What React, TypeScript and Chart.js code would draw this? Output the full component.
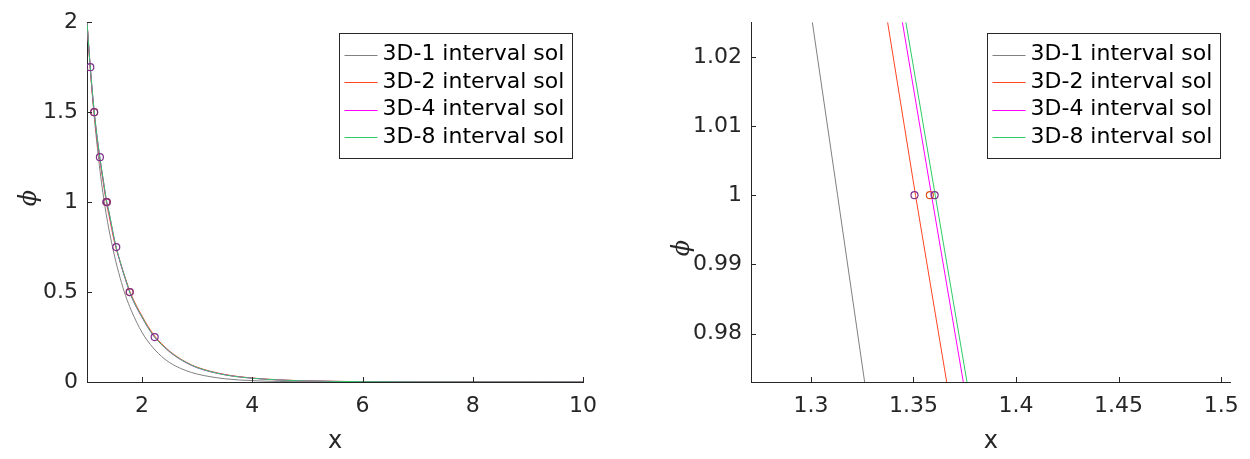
import React, { useEffect, useRef } from 'react';
import { Chart, registerables } from 'chart.js';

Chart.register(...registerables);

// ---------- data ----------
const X_GRID = [1, 1.05, 1.1, 1.15, 1.2, 1.25, 1.3, 1.35, 1.4, 1.5, 1.6, 1.7, 1.8, 2.0, 2.2, 2.4, 2.6, 2.8, 3.0, 3.5, 4, 4.5, 5, 6, 7, 8, 9, 10];
const PHI_3D1 = [2, 1.78, 1.585, 1.415, 1.27, 1.14, 1.027, 0.93, 0.845, 0.7, 0.58, 0.48, 0.4, 0.275, 0.19, 0.13, 0.09, 0.063, 0.044, 0.018, 0.0075, 0.003, 0.0013, 0.0003, 0.0001, 0, 0, 0];
const PHI_3D2 = [2, 1.78, 1.59, 1.435, 1.308, 1.197, 1.098, 1.002, 0.925, 0.775, 0.67, 0.574, 0.487, 0.366, 0.267, 0.199, 0.148, 0.11, 0.082, 0.042, 0.022, 0.012, 0.0065, 0.002, 0.0006, 0.0002, 0.0001, 0];
const PHI_3D4 = [2, 1.788, 1.602, 1.447, 1.321, 1.211, 1.111, 1.012, 0.941, 0.786, 0.667, 0.567, 0.478, 0.358, 0.259, 0.194, 0.144, 0.107, 0.079, 0.04, 0.021, 0.011, 0.006, 0.0018, 0.0005, 0.0002, 0.0001, 0];
const PHI_3D8 = [2, 1.79, 1.605, 1.45, 1.325, 1.215, 1.115, 1.016, 0.945, 0.79, 0.67, 0.57, 0.48, 0.36, 0.26, 0.195, 0.145, 0.108, 0.08, 0.04, 0.021, 0.011, 0.006, 0.0018, 0.0005, 0.0002, 0.0001, 0];

// interval break-points (circle markers)
const MK2_X = [1.3505];
const MK2_Y = [1];
const MK4_X = [1.13, 1.358, 1.775];
const MK4_Y = [1.5, 1, 0.5];
const MK8_X = [1.06, 1.13, 1.234, 1.3603, 1.531, 1.775, 2.228];
const MK8_Y = [1.75, 1.5, 1.25, 1, 0.75, 0.5, 0.25];

// zoomed view (right panel)
const ZOOM_PHI = [1.025, 1.0, 0.973];
const ZOOM_X_3D1 = [1.3007, 1.313, 1.3262];
const ZOOM_X_3D2 = [1.3374, 1.3510, 1.3662];
const ZOOM_X_3D4 = [1.3446, 1.3588, 1.3743];
const ZOOM_X_3D8 = [1.3463, 1.3606, 1.3761];

const SERIES_LABELS = ['3D-1 interval sol', '3D-2 interval sol', '3D-4 interval sol', '3D-8 interval sol'];
const SERIES_COLORS = ['#808080', '#ff4422', '#ff00ff', '#2ecc66'];
const MARKER_PURPLE = '#7e2f8e';
const MARKER_ORANGE = '#d95319';

const LEFT_X_TICKS = [2, 4, 6, 8, 10];
const LEFT_Y_TICKS = [0, 0.5, 1, 1.5, 2];
const RIGHT_X_TICKS = [1.3, 1.35, 1.4, 1.45, 1.5];
const RIGHT_Y_TICKS = [0.98, 0.99, 1, 1.01, 1.02];

const FONT = "'DejaVu Sans', sans-serif";
const AXIS_COLOR = '#262626';

// ---------- helpers ----------
function pts(xs: number[], ys: number[]) {
  return xs.map((x, i) => ({ x, y: ys[i] }));
}
function fmt(v: number) {
  return String(Number(Number(v).toFixed(6)));
}

const innerTicks = {
  id: 'innerTicks',
  afterDraw(chart: any) {
    const ctx = chart.ctx;
    const { left, bottom } = chart.chartArea;
    const xs = chart.scales.x;
    const ys = chart.scales.y;
    ctx.save();
    ctx.strokeStyle = AXIS_COLOR;
    ctx.lineWidth = 1;
    ctx.beginPath();
    xs.ticks.forEach((t: any) => {
      const p = Math.round(xs.getPixelForValue(t.value)) + 0.5;
      ctx.moveTo(p, bottom);
      ctx.lineTo(p, bottom - 5);
    });
    ys.ticks.forEach((t: any) => {
      const p = Math.round(ys.getPixelForValue(t.value)) + 0.5;
      ctx.moveTo(left, p);
      ctx.lineTo(left + 5, p);
    });
    ctx.stroke();
    ctx.restore();
  },
};

const legendBox = {
  id: 'legendBox',
  afterDraw(chart: any, _args: any, opts: any) {
    const ctx = chart.ctx;
    const ca = chart.chartArea;
    const w = opts.width;
    const h = opts.height;
    const bx = Math.round(ca.right - opts.gapRight - w) + 0.5;
    const by = Math.round(ca.top + opts.gapTop) + 0.5;
    ctx.save();
    ctx.fillStyle = '#ffffff';
    ctx.fillRect(bx, by, w, h);
    ctx.strokeStyle = AXIS_COLOR;
    ctx.lineWidth = 1;
    ctx.strokeRect(bx, by, w, h);
    ctx.font = `22px ${FONT}`;
    ctx.textBaseline = 'middle';
    ctx.textAlign = 'left';
    for (let i = 0; i < SERIES_LABELS.length; i++) {
      const cy = by + 21 + i * 27.6;
      const ly = Math.round(cy) + 0.5;
      ctx.beginPath();
      ctx.strokeStyle = SERIES_COLORS[i];
      ctx.lineWidth = 1.2;
      ctx.moveTo(bx + 5, ly);
      ctx.lineTo(bx + 38, ly);
      ctx.stroke();
      ctx.fillStyle = '#000000';
      ctx.fillText(SERIES_LABELS[i], bx + 43, cy);
    }
    ctx.restore();
  },
};

const phiTitle = {
  id: 'phiTitle',
  afterDraw(chart: any, _args: any, opts: any) {
    const ctx = chart.ctx;
    ctx.save();
    ctx.translate(opts.x, opts.y);
    ctx.rotate(-Math.PI / 2);
    ctx.font = "italic 24px 'DejaVu Serif', serif";
    ctx.fillStyle = AXIS_COLOR;
    ctx.textAlign = 'center';
    ctx.textBaseline = 'middle';
    ctx.fillText('\u03D5', 0, 0);
    ctx.restore();
  },
};

function curve(label: string, color: string, data: any[], order: number, smooth: boolean) {
  return {
    label,
    data,
    borderColor: color,
    backgroundColor: color,
    borderWidth: 1,
    pointRadius: 0,
    showLine: true,
    fill: false,
    order,
    cubicInterpolationMode: smooth ? 'monotone' : 'default',
    tension: 0,
  };
}
function markers(color: string, data: any[]) {
  return {
    label: 'break points',
    data,
    showLine: false,
    pointRadius: 3.5,
    pointBorderWidth: 1.2,
    pointBorderColor: color,
    pointBackgroundColor: 'rgba(0,0,0,0)',
    borderColor: color,
    backgroundColor: 'rgba(0,0,0,0)',
    order: 0,
  };
}

function scaleCfg(min: number, max: number, ticks: number[], isX: boolean, size: number, title?: string) {
  const cfg: any = {
    type: 'linear',
    min,
    max,
    afterBuildTicks: (s: any) => {
      s.ticks = ticks.map((v) => ({ value: v }));
    },
    afterFit: (s: any) => {
      if (isX) s.height = size;
      else s.width = size;
    },
    grid: { display: false, drawTicks: false },
    border: { display: true, color: AXIS_COLOR, width: 1 },
    ticks: {
      font: { family: FONT, size: 22 },
      color: AXIS_COLOR,
      padding: isX ? 11 : 9,
      maxRotation: 0,
      minRotation: 0,
      autoSkip: false,
      callback: (v: any) => fmt(v),
    },
  };
  if (title) {
    cfg.title = {
      display: true,
      text: title,
      font: { family: FONT, size: 24 },
      color: AXIS_COLOR,
      padding: { top: 0, bottom: 3 },
    };
  }
  return cfg;
}

function PanelChart({ config }: { config: any }) {
  const ref = useRef<HTMLCanvasElement | null>(null);
  useEffect(() => {
    if (!ref.current) return;
    const chart = new Chart(ref.current, config);
    return () => chart.destroy();
  }, [config]);
  return <canvas ref={ref} width={625} height={459} style={{ display: 'block', width: 625, height: 459 }} />;
}

const leftConfig: any = {
  type: 'line',
  data: {
    datasets: [
      markers(MARKER_PURPLE, pts(MK8_X, MK8_Y)),
      markers(MARKER_ORANGE, pts(MK4_X, MK4_Y)),
      markers(MARKER_PURPLE, pts(MK2_X, MK2_Y)),
      curve(SERIES_LABELS[3], SERIES_COLORS[3], pts(X_GRID, PHI_3D8), 1, true),
      curve(SERIES_LABELS[2], SERIES_COLORS[2], pts(X_GRID, PHI_3D4), 2, true),
      curve(SERIES_LABELS[1], SERIES_COLORS[1], pts(X_GRID, PHI_3D2), 3, true),
      curve(SERIES_LABELS[0], SERIES_COLORS[0], pts(X_GRID, PHI_3D1), 4, true),
    ],
  },
  options: {
    responsive: false,
    animation: false,
    devicePixelRatio: 1,
    layout: { padding: { left: 0, top: 14, right: 42, bottom: 0 } },
    scales: {
      x: scaleCfg(1, 10, LEFT_X_TICKS, true, 77, 'x'),
      y: scaleCfg(0, 2, LEFT_Y_TICKS, false, 87),
    },
    plugins: {
      legend: { display: false },
      tooltip: { enabled: false },
      legendBox: { width: 233, height: 125, gapRight: 11, gapTop: 11 },
      phiTitle: { x: 30, y: 198 },
    },
  },
  plugins: [innerTicks, legendBox, phiTitle],
};

const rightConfig: any = {
  type: 'line',
  data: {
    datasets: [
      markers(MARKER_PURPLE, pts(MK8_X, MK8_Y)),
      markers(MARKER_ORANGE, pts(MK4_X, MK4_Y)),
      markers(MARKER_PURPLE, pts(MK2_X, MK2_Y)),
      curve(SERIES_LABELS[3], SERIES_COLORS[3], pts(ZOOM_X_3D8, ZOOM_PHI), 1, false),
      curve(SERIES_LABELS[2], SERIES_COLORS[2], pts(ZOOM_X_3D4, ZOOM_PHI), 2, false),
      curve(SERIES_LABELS[1], SERIES_COLORS[1], pts(ZOOM_X_3D2, ZOOM_PHI), 3, false),
      curve(SERIES_LABELS[0], SERIES_COLORS[0], pts(ZOOM_X_3D1, ZOOM_PHI), 4, false),
    ],
  },
  options: {
    responsive: false,
    animation: false,
    devicePixelRatio: 1,
    layout: { padding: { left: 0, top: 14, right: 18, bottom: 0 } },
    scales: {
      x: scaleCfg(1.2708, 1.5046, RIGHT_X_TICKS, true, 77, 'x'),
      y: scaleCfg(0.973, 1.025, RIGHT_Y_TICKS, false, 126),
    },
    plugins: {
      legend: { display: false },
      tooltip: { enabled: false },
      legendBox: { width: 233, height: 125, gapRight: 11, gapTop: 11 },
      phiTitle: { x: 58, y: 248 },
    },
  },
  plugins: [innerTicks, legendBox, phiTitle],
};

export default function App() {
  return (
    <div style={{ position: 'fixed', left: 0, top: 0, width: 1250, height: 459, background: '#ffffff', overflow: 'hidden' }}>
      <div style={{ position: 'absolute', left: 0, top: 0, width: 625, height: 459 }}>
        <PanelChart config={leftConfig} />
      </div>
      <div style={{ position: 'absolute', left: 625, top: 0, width: 625, height: 459 }}>
        <PanelChart config={rightConfig} />
      </div>
    </div>
  );
}
